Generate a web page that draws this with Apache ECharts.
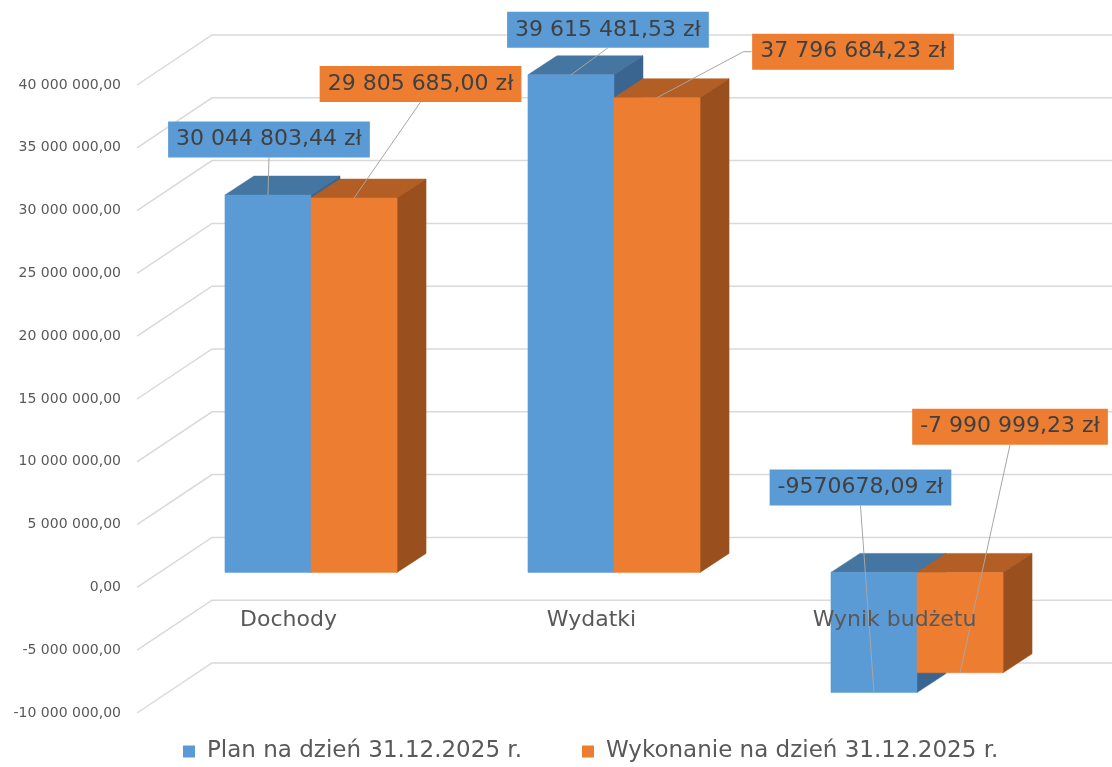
<!DOCTYPE html>
<html>
<head>
<meta charset="utf-8">
<script src="https://cdn.jsdelivr.net/npm/echarts@6/dist/echarts.min.js"></script>
<style>
html,body{margin:0;padding:0;background:#ffffff;}
#chart{width:1112px;height:767px;}
</style>
</head>
<body>
<div id="chart"></div>
<script>
// ---- data ----
const categories = ['Dochody', 'Wydatki', 'Wynik budżetu'];
const seriesNames = ['Plan na dzień 31.12.2025 r.', 'Wykonanie na dzień 31.12.2025 r.'];
const planValues = [30044803.44, 39615481.53, -9570678.09];
const execValues = [29805685.00, 37796684.23, -7990999.23];
const planLabels = ['30 044 803,44 zł', '39 615 481,53 zł', '-9570678,09 zł'];
const execLabels = ['29 805 685,00 zł', '37 796 684,23 zł', '-7 990 999,23 zł'];
const yTicks = [-10000000, -5000000, 0, 5000000, 10000000, 15000000, 20000000, 25000000, 30000000, 35000000, 40000000];
const yMin = -10000000, yMax = 40000000, yStep = 5000000;

// ---- style / layout constants ----
const COLORS = [
  {front: '#5B9BD5', top: '#4575A1', side: '#3A6590'},
  {front: '#ED7D31', top: '#B35E24', side: '#99501E'}
];
const GRID = {left: 137, right: 66, top: 85, bottom: 54};
const CHART_H = 767;
const WALL_DX = 75, WALL_DY = -50;      // depth of the back wall
const FRONT_DX = 22.5, FRONT_DY = -15;  // depth of bars' front faces
const BAR_DX = 29, BAR_DY = -19;        // bar depth
const BAR_FRAC = 0.284;                  // bar width / category band
const FONT = "'DejaVu Sans', 'Open Sans', sans-serif";
// label box center and leader points relative to the bar end anchor
const LABEL_LAYOUT = [
  [ {c: [1, -55.5], l: [[1, -37.5]]},
    {c: [37, -45], l: [[37, -27]]},
    {c: [-13.5, -205], l: [[-13.5, -187]]} ],
  [ {c: [66.5, -114], l: [[66.5, -96]]},
    {c: [196, -46], l: [[94.5, -46], [86.5, -46]]},
    {c: [50, -246], l: [[50, -228]]} ]
];
// move the category axis up to the zero line
const gridH = CHART_H - GRID.top - GRID.bottom;
const zeroOffset = -gridH * (0 - yMin) / (yMax - yMin);

function fmtAxis(v) {
  const parts = Math.abs(v).toFixed(2).split('.');
  return (v < 0 ? '-' : '') + parts[0].replace(/\B(?=(\d{3})+(?!\d))/g, ' ') + ',' + parts[1];
}

function gridRender(params, api) {
  const cs = params.coordSys;
  const y = api.coord([0, api.value(1)])[1];
  const x0 = cs.x;
  return {
    type: 'polyline',
    shape: {points: [[x0, y], [x0 + WALL_DX, y + WALL_DY], [api.getWidth(), y + WALL_DY]]},
    style: {stroke: '#d9d9d9', lineWidth: 1.5, fill: null},
    silent: true
  };
}

function makeBarRender(s, labels) {
  const col = COLORS[s];
  return function (params, api) {
    const ci = api.value(0), v = api.value(1);
    const p0 = api.coord([ci, 0]);
    const p1 = api.coord([ci, v]);
    const band = api.size([1, 0])[0];
    const w = band * BAR_FRAC;
    const cx = p0[0] + FRONT_DX;
    const x0 = s === 0 ? cx - w : cx;
    const x1 = x0 + w;
    const yA = Math.min(p0[1], p1[1]) + FRONT_DY;
    const yB = Math.max(p0[1], p1[1]) + FRONT_DY;
    const anchor = [x0 + w / 2, v >= 0 ? yA : yB];
    const lay = LABEL_LAYOUT[s][ci];
    const leaderPts = lay.l.map(p => [anchor[0] + p[0], anchor[1] + p[1]]).concat([anchor]);
    return {
      type: 'group',
      children: [
        {type: 'polygon', shape: {points: [[x0, yA], [x1, yA], [x1 + BAR_DX, yA + BAR_DY], [x0 + BAR_DX, yA + BAR_DY]]},
          style: {fill: col.top, stroke: col.top, lineWidth: 0.5}},
        {type: 'polygon', shape: {points: [[x1, yA], [x1 + BAR_DX, yA + BAR_DY], [x1 + BAR_DX, yB + BAR_DY], [x1, yB]]},
          style: {fill: col.side, stroke: col.side, lineWidth: 0.5}},
        {type: 'rect', shape: {x: x0, y: yA, width: w, height: yB - yA},
          style: {fill: col.front, stroke: col.front, lineWidth: 0.5}},
        {type: 'polyline', shape: {points: leaderPts},
          style: {stroke: '#a6a6a6', lineWidth: 1, fill: null}, z2: 10},
        {type: 'text', z2: 20,
          style: {
            x: anchor[0] + lay.c[0], y: anchor[1] + lay.c[1],
            text: labels[ci], align: 'center', verticalAlign: 'middle',
            font: '22px ' + FONT, fill: '#404040',
            backgroundColor: col.front, padding: [6, 8], lineHeight: 24
          }}
      ]
    };
  };
}

const chart = echarts.init(document.getElementById('chart'), null, {renderer: 'canvas'});
chart.setOption({
  backgroundColor: '#ffffff',
  animation: false,
  color: [COLORS[0].front, COLORS[1].front],
  grid: {left: GRID.left, right: GRID.right, top: GRID.top, bottom: GRID.bottom, containLabel: false},
  legend: {
    data: seriesNames,
    left: 183, top: 740, padding: 0,
    icon: 'rect', itemWidth: 12, itemHeight: 12, itemGap: 60,
    textStyle: {fontSize: 23, fontFamily: FONT, color: '#595959', padding: [2, 0, 0, 7]}
  },
  xAxis: {
    type: 'category', data: categories, z: 5,
    offset: zeroOffset,
    axisLine: {show: false},
    axisTick: {show: false},
    splitLine: {show: false},
    axisLabel: {fontSize: 22, fontFamily: FONT, color: '#595959', margin: 22}
  },
  yAxis: {
    type: 'value', min: yMin, max: yMax, interval: yStep,
    axisLine: {show: false}, axisTick: {show: false}, splitLine: {show: false},
    axisLabel: {fontSize: 14, fontFamily: FONT, color: '#595959', margin: 16, formatter: fmtAxis}
  },
  series: [
    {type: 'custom', name: '_grid', z: 1, silent: true, renderItem: gridRender,
      data: yTicks.map(v => [0, v])},
    {type: 'custom', name: seriesNames[0], z: 2, renderItem: makeBarRender(0, planLabels),
      itemStyle: {color: COLORS[0].front},
      data: planValues.map((v, i) => [i, v])},
    {type: 'custom', name: seriesNames[1], z: 3, renderItem: makeBarRender(1, execLabels),
      itemStyle: {color: COLORS[1].front},
      data: execValues.map((v, i) => [i, v])}
  ]
});
</script>
</body>
</html>
